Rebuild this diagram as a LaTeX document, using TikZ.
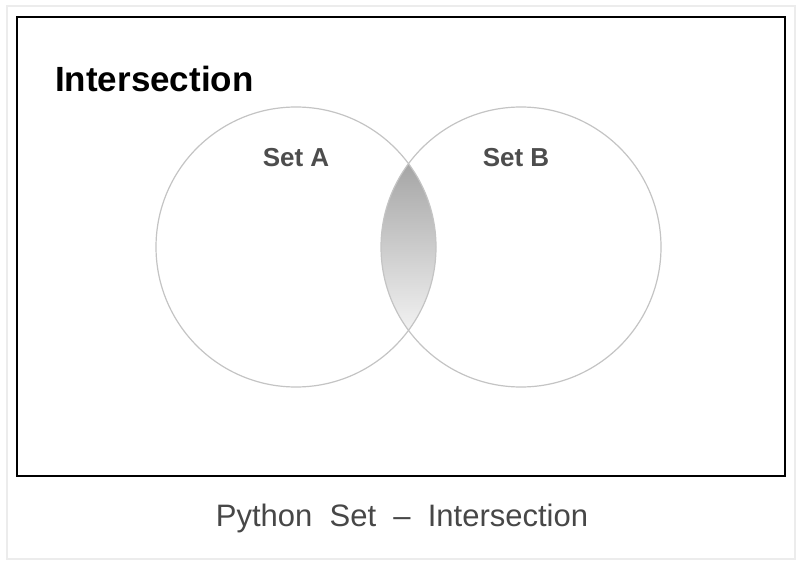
\documentclass[tikz,border=0pt]{standalone}
\usepackage{fontspec}
\setmainfont{Liberation Sans}
\usepackage{tikz}
\definecolor{labelgray}{HTML}{4D4D4D}
\definecolor{captiongray}{HTML}{474747}
\definecolor{ringgray}{HTML}{C4C4C4}
\definecolor{framegray}{HTML}{ECECEC}
\tikzset{setring/.style={ringgray,line width=1.2pt},
  setlabel/.style={labelgray,font=\fontsize{26}{30}\selectfont\bfseries}}

\begin{document}
\begin{tikzpicture}[x=1pt,y=-1pt]
  \useasboundingbox (0,0) rectangle (802,564);
  \fill[white] (0,0) rectangle (802,564);
  \draw[framegray,line width=2pt] (7,6) rectangle (795,559);
  \draw[black,line width=2pt] (17,17) rectangle (785,476);
  \node[anchor=base west,inner sep=0pt,font=\fontsize{35}{40}\selectfont\bfseries] (title) at (55,92) {Intersection};
  % the two sets
  \coordinate (cA) at (296,247);
  \coordinate (cB) at (521,247);
  % soft shadow of the overlap
  \begin{scope}[shift={(4,6)}]
    \clip (cA) circle (140);
    \fill[gray!20,opacity=0.7] (cB) circle (140);
  \end{scope}
  \begin{scope}
    \clip (cA) circle (140);
    \clip (cB) circle (140);
    \shade[top color=gray!70,middle color=gray!50,bottom color=gray!10] (370,164) rectangle (445,332);
  \end{scope}
  \draw[setring] (cA) circle (140);
  \draw[setring] (cB) circle (140);
  \node[setlabel] (labelA) at (296,158) {Set A};
  \node[setlabel] (labelB) at (516,158) {Set B};
  \node[anchor=base,inner sep=0pt,captiongray,font=\fontsize{31}{36}\selectfont] (caption) at (402,526) {Python\ \ Set\ \ --\ \ Intersection};
\end{tikzpicture}
\end{document}
